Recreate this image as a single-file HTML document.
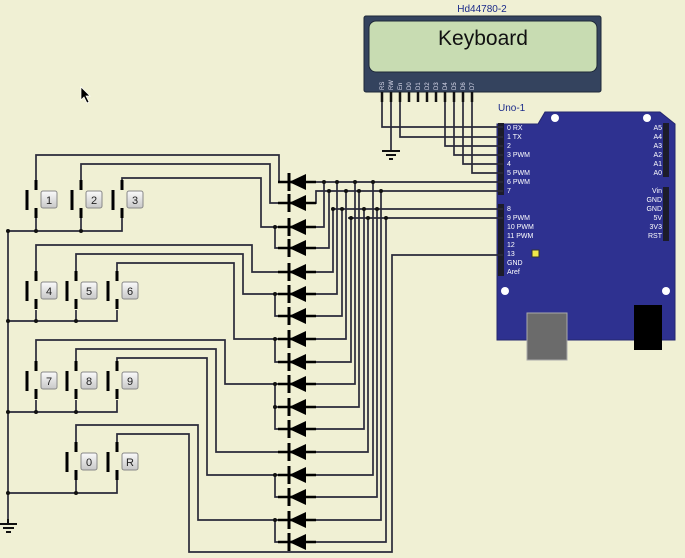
<!DOCTYPE html>
<html><head><meta charset="utf-8"><style>
html,body{margin:0;padding:0;background:#f0f0d4;}
svg{display:block}
text{font-family:"Liberation Sans",sans-serif}
.m{font-family:"Liberation Mono",monospace;font-size:7px;fill:#fff}
</style></head><body>
<svg width="685" height="558" viewBox="0 0 685 558" xmlns="http://www.w3.org/2000/svg">
<defs>
<g id="d"><line x1="278" y1="0" x2="316" y2="0" stroke="#000" stroke-width="2.5"/><line x1="289" y1="-9" x2="289" y2="9" stroke="#000" stroke-width="3"/><polygon points="289,0 306,-8 306,8" fill="#000"/></g>
<linearGradient id="bg" x1="0" y1="0" x2="0" y2="1"><stop offset="0" stop-color="#fafafa"/><stop offset="1" stop-color="#c8c8c8"/></linearGradient>
<g id="sw"><line x1="0" y1="-10" x2="0" y2="10" stroke="#000" stroke-width="3"/><line x1="9" y1="-20" x2="9" y2="-10" stroke="#000" stroke-width="3"/><line x1="9" y1="8" x2="9" y2="18" stroke="#000" stroke-width="3"/><rect x="14" y="-9" width="16" height="17" rx="2" fill="url(#bg)" stroke="#888"/></g>
</defs>
<rect width="685" height="558" fill="#f0f0d4"/>
<!-- LCD -->
<text x="482" y="12" font-size="10" fill="#1a2a8a" text-anchor="middle">Hd44780-2</text>
<rect x="364" y="16" width="237" height="76" rx="2" fill="#34435e" stroke="#1e2838"/>
<rect x="369" y="21" width="228" height="51" rx="7" fill="#c8dcb2" stroke="#1e2838"/>
<text x="483" y="45" font-size="21" font-family="Liberation Mono,monospace" fill="#111" text-anchor="middle">Keyboard</text>
<g font-size="6" fill="#dde" font-family="Liberation Mono,monospace">
<g transform="translate(384,90) rotate(-90)"><text>RS</text></g>
<g transform="translate(393,90) rotate(-90)"><text>RW</text></g>
<g transform="translate(402,90) rotate(-90)"><text>En</text></g>
<g transform="translate(411,90) rotate(-90)"><text>D0</text></g>
<g transform="translate(420,90) rotate(-90)"><text>D1</text></g>
<g transform="translate(429,90) rotate(-90)"><text>D2</text></g>
<g transform="translate(438,90) rotate(-90)"><text>D3</text></g>
<g transform="translate(447,90) rotate(-90)"><text>D4</text></g>
<g transform="translate(456,90) rotate(-90)"><text>D5</text></g>
<g transform="translate(465,90) rotate(-90)"><text>D6</text></g>
<g transform="translate(474,90) rotate(-90)"><text>D7</text></g>
</g>
<g stroke="#111" stroke-width="2.5">
<line x1="382" y1="92" x2="382" y2="102"/><line x1="391" y1="92" x2="391" y2="102"/><line x1="400" y1="92" x2="400" y2="102"/><line x1="409" y1="92" x2="409" y2="102"/><line x1="418" y1="92" x2="418" y2="102"/><line x1="427" y1="92" x2="427" y2="102"/><line x1="436" y1="92" x2="436" y2="102"/><line x1="445" y1="92" x2="445" y2="102"/><line x1="454" y1="92" x2="454" y2="102"/><line x1="463" y1="92" x2="463" y2="102"/><line x1="472" y1="92" x2="472" y2="102"/>
</g>
<!-- Arduino -->
<text x="498" y="111" font-size="10" fill="#1a2a8a">Uno-1</text>
<path d="M497,124 L538,124 L545,112 L660,112 L675,124 L675,340 L497,340 Z" fill="#2e3190" stroke="#24266e"/>
<g fill="#fff"><circle cx="555" cy="118" r="4"/><circle cx="647" cy="118" r="4"/><circle cx="505" cy="291" r="4"/><circle cx="666" cy="291" r="4"/></g>
<rect x="527" y="313" width="40" height="47" fill="#6b6b6b" stroke="#aaa"/>
<rect x="634" y="305" width="28" height="45" fill="#000"/>
<rect x="532" y="250" width="7" height="7" fill="#f0e84a" stroke="#333"/>
<rect x="498" y="123" width="6" height="72" fill="#1c1c2a"/>
<rect x="498" y="204" width="6" height="72" fill="#1c1c2a"/>
<rect x="663" y="123" width="6" height="54" fill="#1c1c2a"/>
<rect x="663" y="187" width="6" height="54" fill="#1c1c2a"/>
<g class="m">
<text x="507" y="130">0 RX</text><text x="507" y="139">1 TX</text><text x="507" y="148">2</text><text x="507" y="157">3 PWM</text><text x="507" y="166">4</text><text x="507" y="175">5 PWM</text><text x="507" y="184">6 PWM</text><text x="507" y="193">7</text>
<text x="507" y="211">8</text><text x="507" y="220">9 PWM</text><text x="507" y="229">10 PWM</text><text x="507" y="238">11 PWM</text><text x="507" y="247">12</text><text x="507" y="256">13</text><text x="507" y="265">GND</text><text x="507" y="274">Aref</text>
<g text-anchor="end"><text x="662" y="130">A5</text><text x="662" y="139">A4</text><text x="662" y="148">A3</text><text x="662" y="157">A2</text><text x="662" y="166">A1</text><text x="662" y="175">A0</text>
<text x="662" y="193">Vin</text><text x="662" y="202">GND</text><text x="662" y="211">GND</text><text x="662" y="220">5V</text><text x="662" y="229">3V3</text><text x="662" y="238">RST</text></g>
</g>
<g stroke="#2a2a3a" stroke-width="1.7" fill="none">
<polyline points="382,102 382,127 503,127"/>
<polyline points="391,102 391,150"/>
<polyline points="400,102 400,137 503,137"/>
<polyline points="445,102 445,146 503,146"/>
<polyline points="454,102 454,155 503,155"/>
<polyline points="463,102 463,164 503,164"/>
<polyline points="472,102 472,173 503,173"/>
<polyline points="306,182 503,182"/>
<polyline points="313,203 316,203 316,191 503,191"/>
<polyline points="333,209 503,209"/>
<polyline points="348,218 503,218"/>
<polyline points="503,255 392,255 392,552 189,552 189,434 117,434 117,446"/>
<polyline points="8,520 8,231 122,231 122,218"/>
<polyline points="8,321 117,321 117,310"/>
<polyline points="8,412 117,412 117,400"/>
<polyline points="8,493 117,493 117,480"/>
<line x1="36" y1="231" x2="36" y2="218"/><line x1="81" y1="231" x2="81" y2="218"/>
<line x1="36" y1="321" x2="36" y2="310"/><line x1="76" y1="321" x2="76" y2="310"/>
<line x1="36" y1="412" x2="36" y2="400"/><line x1="76" y1="412" x2="76" y2="400"/>
<line x1="76" y1="493" x2="76" y2="480"/>
<polyline points="36,180 36,155 279,155 279,182 289,182"/>
<polyline points="81,180 81,164 270,164 270,203 289,203"/>
<polyline points="122,180 122,178 261,178 261,227 289,227"/>
<polyline points="275,227 275,248 289,248"/>
<polyline points="36,272 36,245 252,245 252,272 289,272"/>
<polyline points="76,272 76,254 243,254 243,294 289,294"/>
<polyline points="275,294 275,316 289,316"/>
<polyline points="117,272 117,263 234,263 234,339 289,339"/>
<polyline points="275,339 275,362 289,362"/>
<polyline points="36,362 36,340 225,340 225,384 289,384"/>
<polyline points="275,384 275,429 289,429"/><line x1="275" y1="407" x2="289" y2="407"/>
<polyline points="76,362 76,349 216,349 216,452 289,452"/>
<polyline points="117,362 117,358 207,358 207,475 289,475"/>
<polyline points="275,475 275,497 289,497"/>
<polyline points="76,443 76,425 198,425 198,520 289,520"/>
<polyline points="275,520 275,542 289,542"/>
<polyline points="306,227 324,227 324,182"/>
<polyline points="306,248 329,248 329,191"/>
<polyline points="306,272 333,272 333,209"/>
<polyline points="306,294 337,294 337,182"/>
<polyline points="306,316 342,316 342,209"/>
<polyline points="306,339 346,339 346,191"/>
<polyline points="306,362 351,362 351,218"/>
<polyline points="306,384 355,384 355,182"/>
<polyline points="306,407 359,407 359,191"/>
<polyline points="306,429 364,429 364,209"/>
<polyline points="306,452 368,452 368,218"/>
<polyline points="306,475 373,475 373,182"/>
<polyline points="306,497 377,497 377,209"/>
<polyline points="306,520 381,520 381,191"/>
<polyline points="306,542 386,542 386,218"/>
</g>
<g stroke="#111" stroke-width="2"><line x1="382" y1="151" x2="400" y2="151"/><line x1="386" y1="155" x2="396" y2="155"/><line x1="389" y1="159" x2="393" y2="159"/>
<line x1="0" y1="524" x2="17" y2="524"/><line x1="3" y1="528" x2="14" y2="528"/><line x1="6" y1="532" x2="11" y2="532"/><line x1="8" y1="519" x2="8" y2="524"/></g>
<g fill="#111">
<circle cx="8" cy="231" r="2"/><circle cx="36" cy="231" r="2"/><circle cx="81" cy="231" r="2"/>
<circle cx="8" cy="321" r="2"/><circle cx="36" cy="321" r="2"/><circle cx="76" cy="321" r="2"/>
<circle cx="8" cy="412" r="2"/><circle cx="36" cy="412" r="2"/><circle cx="76" cy="412" r="2"/>
<circle cx="8" cy="493" r="2"/><circle cx="76" cy="493" r="2"/>
<circle cx="275" cy="227" r="2"/><circle cx="275" cy="294" r="2"/><circle cx="275" cy="339" r="2"/><circle cx="275" cy="384" r="2"/><circle cx="275" cy="407" r="2"/><circle cx="275" cy="475" r="2"/><circle cx="275" cy="520" r="2"/>
<circle cx="324" cy="182" r="2"/><circle cx="329" cy="191" r="2"/><circle cx="333" cy="209" r="2"/><circle cx="337" cy="182" r="2"/><circle cx="342" cy="209" r="2"/><circle cx="346" cy="191" r="2"/><circle cx="351" cy="218" r="2"/><circle cx="355" cy="182" r="2"/><circle cx="359" cy="191" r="2"/><circle cx="364" cy="209" r="2"/><circle cx="368" cy="218" r="2"/><circle cx="373" cy="182" r="2"/><circle cx="377" cy="209" r="2"/><circle cx="381" cy="191" r="2"/><circle cx="386" cy="218" r="2"/>
</g>
<use href="#d" transform="translate(0,182)"/><use href="#d" transform="translate(0,203)"/><use href="#d" transform="translate(0,227)"/><use href="#d" transform="translate(0,248)"/><use href="#d" transform="translate(0,272)"/><use href="#d" transform="translate(0,294)"/><use href="#d" transform="translate(0,316)"/><use href="#d" transform="translate(0,339)"/><use href="#d" transform="translate(0,362)"/><use href="#d" transform="translate(0,384)"/><use href="#d" transform="translate(0,407)"/><use href="#d" transform="translate(0,429)"/><use href="#d" transform="translate(0,452)"/><use href="#d" transform="translate(0,475)"/><use href="#d" transform="translate(0,497)"/><use href="#d" transform="translate(0,520)"/><use href="#d" transform="translate(0,542)"/>
<g font-size="11" fill="#222" text-anchor="middle">
<use href="#sw" transform="translate(27,200)"/><text x="49" y="204">1</text>
<use href="#sw" transform="translate(72,200)"/><text x="94" y="204">2</text>
<use href="#sw" transform="translate(113,200)"/><text x="135" y="204">3</text>
<use href="#sw" transform="translate(27,291)"/><text x="49" y="295">4</text>
<use href="#sw" transform="translate(67,291)"/><text x="89" y="295">5</text>
<use href="#sw" transform="translate(108,291)"/><text x="130" y="295">6</text>
<use href="#sw" transform="translate(27,381)"/><text x="49" y="385">7</text>
<use href="#sw" transform="translate(67,381)"/><text x="89" y="385">8</text>
<use href="#sw" transform="translate(108,381)"/><text x="130" y="385">9</text>
<use href="#sw" transform="translate(67,462)"/><text x="89" y="466">0</text>
<use href="#sw" transform="translate(108,462)"/><text x="130" y="466">R</text>
</g>
<path d="M81,87 L81,100 L84,97 L87,103 L89,102 L86,96 L90,96 Z" fill="#000" stroke="#fff" stroke-width="0.7"/>
</svg>
</body></html>
